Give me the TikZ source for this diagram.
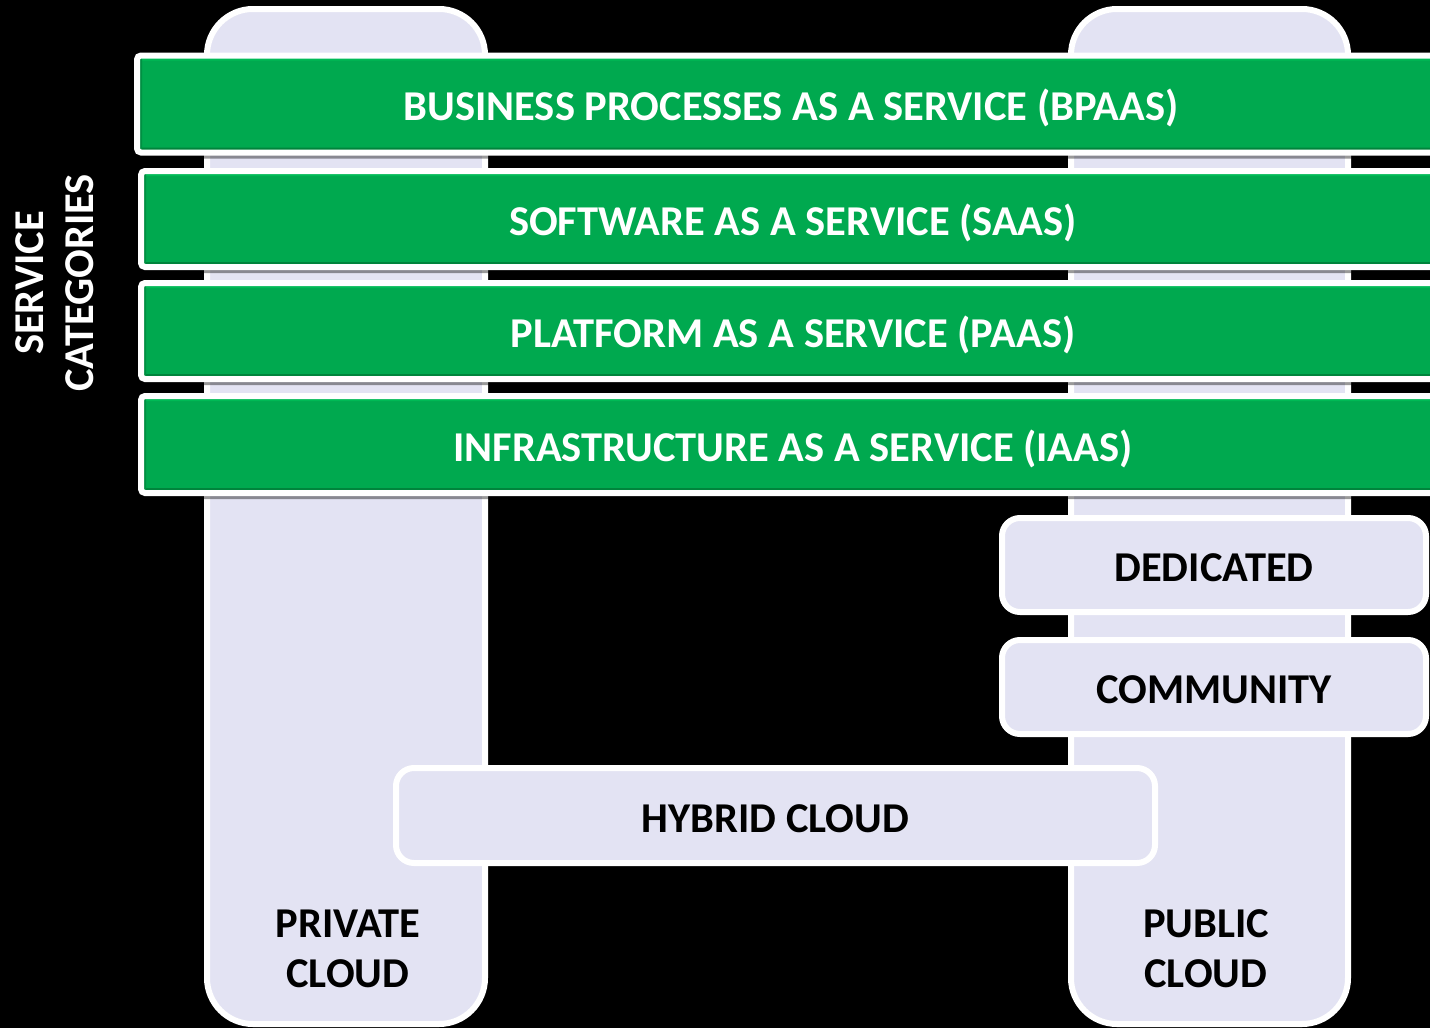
\documentclass[tikz,border=0pt]{standalone}
\usepackage{fontspec}
\setmainfont{Carlito}
\usetikzlibrary{shadows}
\definecolor{bargreen}{HTML}{00A94F}
\definecolor{barlight}{HTML}{00BA56}
\definecolor{bardark}{HTML}{00843C}
\definecolor{lav}{HTML}{E3E3F3}
\definecolor{lavshade}{HTML}{BDBDCF}
\tikzset{
  x=1pt, y=-1pt,
  bar/.style={draw=white, line width=6pt, fill=bargreen, rounded corners=4pt,
    anchor=west, minimum height=97pt, inner sep=0pt, text height=33pt, text depth=0pt,
    font=\bfseries\fontsize{42.5}{50}\selectfont, text=white,
    drop shadow={opacity=0.4, shadow xshift=0pt, shadow yshift=-6pt, fill=black},
    path picture={
      \fill[barlight] (path picture bounding box.north west) rectangle ([yshift=-5pt]path picture bounding box.north east);
      \fill[bardark] (path picture bounding box.south west) rectangle ([yshift=5pt]path picture bounding box.south east);
      \fill[bargreen!85!black] (path picture bounding box.north west) rectangle ([xshift=5pt]path picture bounding box.south west);
    }},
  pillar/.style={draw=white, line width=6pt, fill=lav, rounded corners=46pt,
    inner sep=0pt,
    path picture={
      \draw[lavshade, line width=5pt, rounded corners=46pt] (path picture bounding box.north west) rectangle (path picture bounding box.south east);
    }},
  lbox/.style={draw=white, line width=6pt, fill=lav, rounded corners=18pt,
    inner sep=0pt, minimum height=94pt, text height=33pt, text depth=0pt,
    font=\bfseries\fontsize{42.5}{50}\selectfont, text=black,
    path picture={
      \draw[lavshade!70!lav, line width=4pt, rounded corners=16pt] (path picture bounding box.north west) rectangle (path picture bounding box.south east);
    }},
  plabel/.style={font=\bfseries\fontsize{42.5}{50}\selectfont, text=black, align=center},
}
\begin{document}
\begin{tikzpicture}
\useasboundingbox (0,0) rectangle (1430,1028);
\fill[black] (0,0) rectangle (1430,1028);
\clip (0,0) rectangle (1430,1028);
% pillars
\node[pillar, minimum width=278pt, minimum height=1015pt] (private) at (346,516.5) {};
\node[pillar, minimum width=277pt, minimum height=1015pt] (public) at (1209.5,516.5) {};
% bars
\node[bar, minimum width=1308pt] (bpaas) at (134,104) {BUSINESS PROCESSES AS A SERVICE (BPAAS)};
\node[bar, minimum width=1304pt, minimum height=96pt] (saas) at (138,219) {SOFTWARE AS A SERVICE (SAAS)};
\node[bar, minimum width=1304pt, minimum height=96pt] (paas) at (138,331) {PLATFORM AS A SERVICE (PAAS)};
\node[bar, minimum width=1304pt, minimum height=97pt] (iaas) at (138,444.5) {INFRASTRUCTURE AS A SERVICE (IAAS)};
% boxes
\node[lbox, minimum width=424pt] (dedicated) at (1214,565) {DEDICATED};
\node[lbox, minimum width=424pt] (community) at (1214,687) {COMMUNITY};
\node[lbox, minimum width=759pt, minimum height=95pt] (hybrid) at (775.5,815.5) {HYBRID CLOUD};
% labels
\node[plabel] (privlabel) at (348,949) {PRIVATE\\CLOUD};
\node[plabel] (publabel) at (1206,949) {PUBLIC\\CLOUD};
\node[plabel, text=white, rotate=90] (servcat) at (55,283) {SERVICE\\CATEGORIES};
\end{tikzpicture}
\end{document}
